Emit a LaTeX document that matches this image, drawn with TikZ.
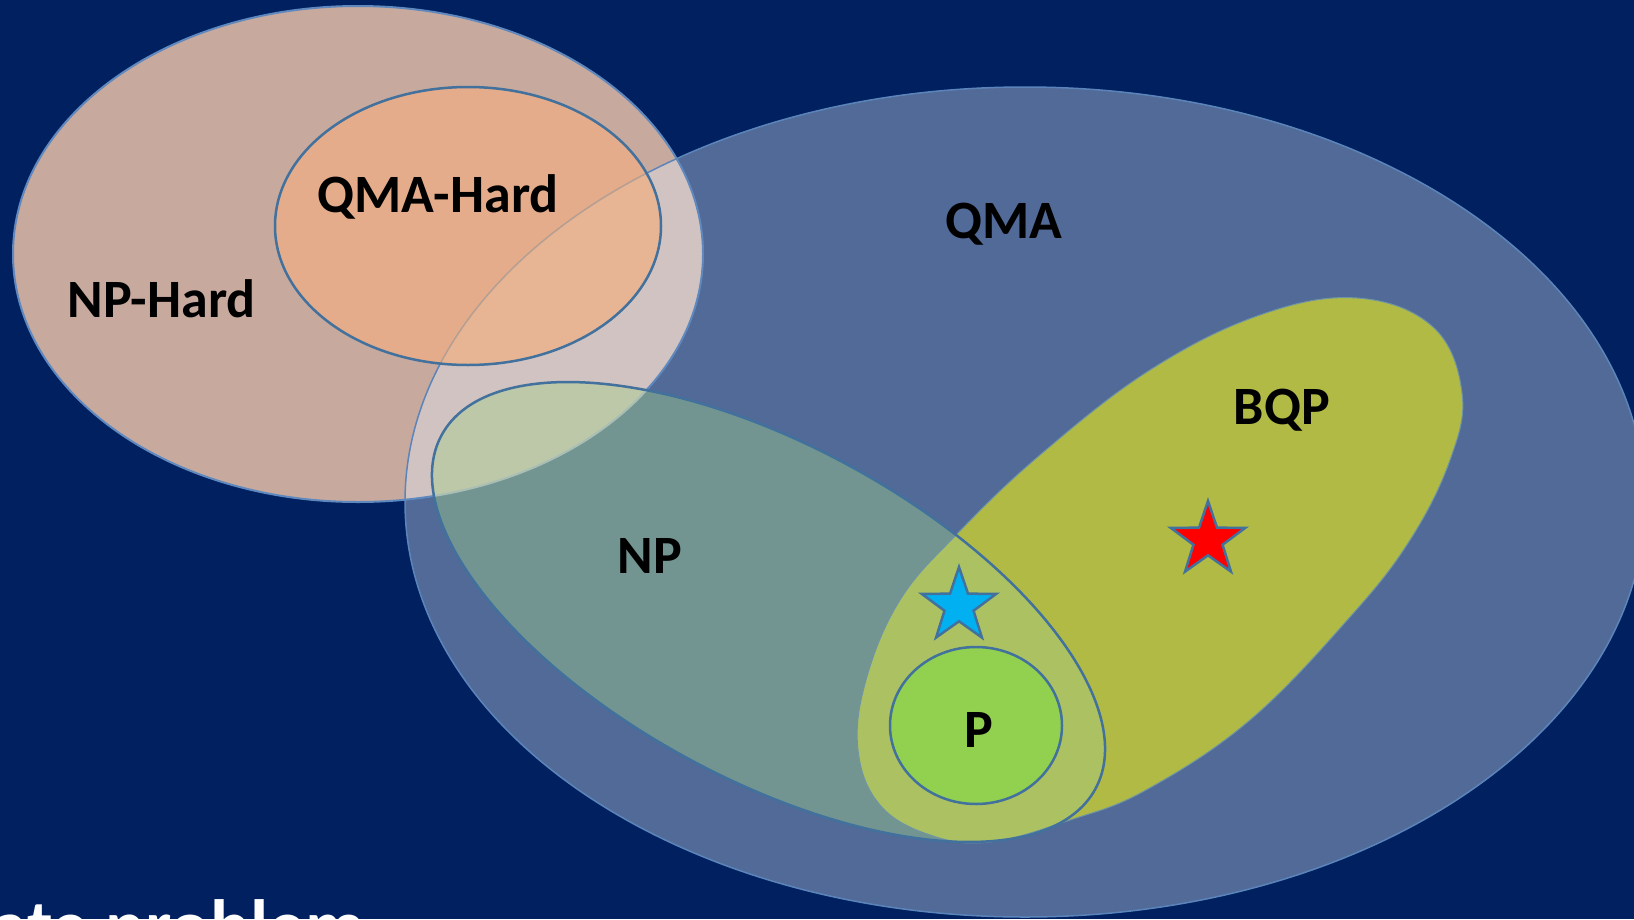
\documentclass[tikz,border=0pt]{standalone}
\usepackage{fontspec}
\setmainfont{Carlito}
\usetikzlibrary{shapes.geometric}
\definecolor{bgc}{HTML}{002060}
\definecolor{qmac}{HTML}{516A98}
\definecolor{nphc}{HTML}{C7A99E}
\definecolor{nphqc}{HTML}{D1C3C1}
\definecolor{qmahc}{HTML}{E4AC8A}
\definecolor{qmahqc}{HTML}{E8B594}
\definecolor{npc}{HTML}{739591}
\definecolor{npnphc}{HTML}{BDC8A9}
\definecolor{bqpc}{HTML}{B0BA45}
\definecolor{bqpnpc}{HTML}{ACC262}
\definecolor{pc}{HTML}{92D050}
\definecolor{outl}{HTML}{41719C}
\definecolor{qmaline}{HTML}{5B85BA}
\definecolor{nphline}{HTML}{5F88BE}
\definecolor{greyline}{HTML}{B59E92}
\definecolor{lightline}{HTML}{A9BFB5}
\definecolor{bqpline}{HTML}{6E94A6}
\definecolor{bluestar}{HTML}{00B0F0}
\newcommand\QMAshape{(1025,502) ellipse [x radius=620, y radius=415]}
\newcommand\NPHshape{(358,254) ellipse [x radius=345, y radius=248]}
\newcommand\QMAHshape{(468,226) ellipse [x radius=193, y radius=139]}
\newcommand\NPshape{[rotate around={-28.4:(768.5,612)}] (768.5,612) ellipse [x radius=371.7, y radius=167.2]}
\newcommand\BQPshape{plot[smooth cycle, tension=0.65] coordinates {(1357,298) (1433,327) (1462,393) (1450,460) (1410,540) (1350,617) (1250,720) (1146,790) (1070,820) (990,842) (930,835) (880,805) (858,750) (866,680) (900,600) (957,534) (1040,455) (1150,370) (1260,315)}}
\begin{document}
\begin{tikzpicture}[x=1pt,y=-1pt,
  lbl/.style={font=\fontsize{54}{60}\selectfont\bfseries, text=black, inner sep=0, anchor=base},
  starshape/.style={star, star points=5, star point ratio=2.55, minimum size=78, inner sep=0, draw=outl, line width=2.5}]
\useasboundingbox (0,0) rectangle (1634,919);
\clip (0,0) rectangle (1634,919);
\fill[bgc] (0,0) rectangle (1634,919);
% QMA
\fill[qmac] \QMAshape;
% NP-Hard
\fill[nphc] \NPHshape;
\begin{scope}\clip \QMAshape; \fill[nphqc] \NPHshape;\end{scope}
\draw[qmaline, line width=1.5] \QMAshape;
\draw[nphline, line width=2] \NPHshape;
% QMA-Hard
\fill[qmahc] \QMAHshape;
\begin{scope}\clip \QMAHshape; \fill[qmahqc] \QMAshape; \draw[greyline, line width=1.5] \QMAshape;\end{scope}
\draw[outl, line width=2.5] \QMAHshape;
% NP
\fill[npc] \NPshape;
\begin{scope}\clip \NPshape; \fill[npnphc] \NPHshape; \draw[lightline, line width=2] \NPHshape;\end{scope}
% BQP
\fill[bqpc] \BQPshape;
\begin{scope}\clip \NPshape; \fill[bqpnpc] \BQPshape;\end{scope}
\draw[bqpline, line width=1] \BQPshape;
\draw[outl, line width=2.5] \NPshape;
% P
\node[ellipse, minimum width=172, minimum height=157, inner sep=0, fill=pc, draw=outl, line width=2.5] (P) at (976,725.5) {};
% stars
\node[starshape, fill=bluestar] (bstar) at (959,606) {};
\node[starshape, fill=red] (rstar) at (1208,540) {};
% labels
\node[lbl] (lqmah) at (438,212) {QMA-Hard};
\node[lbl] (lnph) at (161.5,317) {NP-Hard};
\node[lbl] (lqma) at (1004,238) {QMA};
\node[lbl] (lbqp) at (1282,424) {BQP};
\node[lbl] (lnp) at (650,573) {NP};
\node[lbl] (lp) at (979,747) {P};
% cut-off title text at bottom
\node[anchor=base west, inner sep=0, text=white, font=\fontsize{74}{80}\selectfont\bfseries] (title) at (-9,951) {ate problem};
\end{tikzpicture}
\end{document}
